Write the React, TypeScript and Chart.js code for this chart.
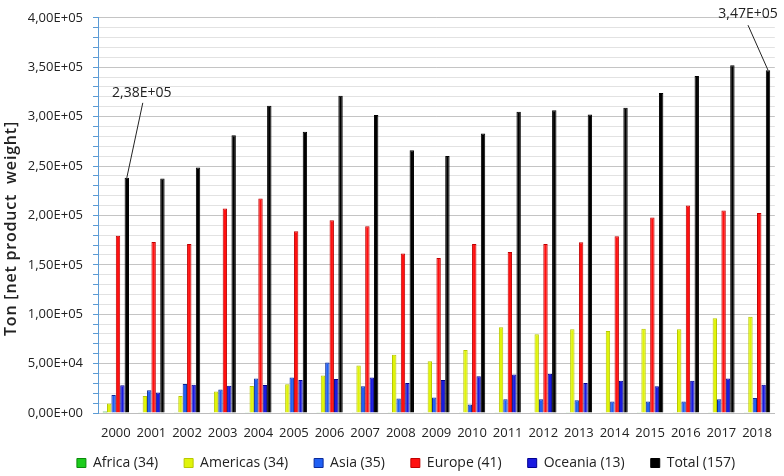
import React, { useEffect, useRef } from 'react';
import { Chart, registerables } from 'chart.js';

Chart.register(...registerables);

const years = ['2000', '2001', '2002', '2003', '2004', '2005', '2006', '2007', '2008', '2009', '2010', '2011', '2012', '2013', '2014', '2015', '2016', '2017', '2018'];
const africa = [1500, 800, 800, 800, 800, 800, 800, 800, 800, 800, 800, 800, 800, 800, 800, 800, 800, 800, 800];
const americas = [9700, 17300, 17300, 21700, 27300, 29000, 38000, 48000, 59000, 52300, 63700, 86700, 79700, 84700, 83000, 85300, 84700, 96000, 97300];
const asia = [18300, 23000, 29300, 23700, 35000, 36000, 51000, 27000, 14700, 15700, 8700, 14000, 14000, 13000, 11700, 11700, 11700, 14000, 15300];
const europe = [179500, 173000, 171000, 207000, 217000, 184000, 195000, 189000, 161500, 157000, 171000, 163000, 171000, 172800, 179000, 197800, 210000, 205000, 202500];
const oceania = [28000, 20700, 28700, 27700, 28300, 33300, 34300, 36000, 30300, 33300, 37300, 39000, 39700, 30300, 32700, 27000, 32700, 35000, 28700];
const total = [238000, 237300, 248500, 281000, 311000, 284700, 321000, 301500, 266000, 260000, 283000, 305000, 306500, 302000, 309000, 324000, 341000, 352000, 347000];
const seriesNames = ['Africa (34)', 'Americas (34)', 'Asia (35)', 'Europe (41)', 'Oceania (13)', 'Total (157)'];
const annotatedIndices = [0, 18];

function sci(v: number): string {
  const [m, e] = v.toExponential(2).split('e');
  const n = parseInt(e, 10);
  const sign = n < 0 ? '-' : '+';
  const ex = String(Math.abs(n)).padStart(2, '0');
  return m.replace('.', ',') + 'E' + sign + ex;
}

const titlePlugin = {
  id: 'yTitleAndLabels',
  afterDraw(chart: any) {
    const ctx = chart.ctx;
    ctx.save();
    ctx.translate(11, 228.5);
    ctx.rotate(-Math.PI / 2);
    ctx.font = '600 16px "Open Sans"';
    try { (ctx as any).letterSpacing = '0.8px'; } catch (e) {}
    ctx.fillStyle = '#222222';
    ctx.textAlign = 'center';
    ctx.textBaseline = 'middle';
    ctx.fillText('Ton [net product  weight]', 0, 0);
    ctx.restore();

    const meta = chart.getDatasetMeta(5);
    ctx.save();
    ctx.font = '14px "Open Sans"';
    ctx.fillStyle = '#222222';
    ctx.strokeStyle = '#222222';
    ctx.lineWidth = 1;
    ctx.textAlign = 'center';
    ctx.textBaseline = 'middle';
    annotatedIndices.forEach((idx) => {
      const el = meta.data[idx];
      if (!el) return;
      const label = sci(total[idx]);
      let tx, ty, lx, ly;
      if (idx === 0) {
        tx = el.x + 15; ty = el.y - 85; lx = el.x + 16; ly = el.y - 75;
      } else {
        tx = el.x - 20; ty = el.y - 56; lx = el.x - 20; ly = el.y - 45;
      }
      ctx.beginPath();
      ctx.moveTo(lx, ly);
      ctx.lineTo(el.x, el.y);
      ctx.stroke();
      ctx.fillText(label, tx, ty);
    });
    ctx.restore();
  },
};

const noClip = (s: any) => { s._computeLabelArea = () => undefined; };

export default function App() {
  const ref = useRef<HTMLCanvasElement | null>(null);
  useEffect(() => {
    if (!ref.current) return;
    const mk = (i: number, data: number[], bg: string, border: string) => ({
      label: seriesNames[i],
      data,
      backgroundColor: bg,
      borderColor: border,
      borderWidth: 1,
      categoryPercentage: 0.74,
      barPercentage: 1.0,
    });
    const chart = new Chart(ref.current, {
      type: 'bar',
      data: {
        labels: years,
        datasets: [
          mk(0, africa, '#1ccc1c', '#0a8a0a'),
          mk(1, americas, '#e0f40a', '#b8c800'),
          mk(2, asia, '#2060f4', '#0a2a9a'),
          mk(3, europe, '#ff1010', '#c00000'),
          mk(4, oceania, '#1a1ae0', '#000090'),
          mk(5, total, '#000000', '#000000'),
        ],
      },
      plugins: [titlePlugin],
      options: {
        animation: false,
        responsive: true,
        maintainAspectRatio: false,
        layout: { padding: { top: 13, right: 4, left: 32, bottom: 0 } },
        plugins: {
          legend: {
            position: 'bottom',
            labels: {
              boxWidth: 9,
              boxHeight: 9,
              padding: 26,
              color: '#222222',
              font: { family: '"Open Sans"', size: 14 },
            },
          },
          tooltip: { enabled: false },
        },
        scales: {
          x: {
            grid: { display: false, drawTicks: false },
            border: { display: true, color: '#bdbdbd' },
            ticks: {
              color: '#222222',
              font: { family: '"Open Sans"', size: 13 },
              padding: 12,
              maxRotation: 0,
              autoSkip: false,
            },
            afterFit: (s: any) => { s.height = 17; noClip(s); },
          },
          y: {
            min: 0,
            max: 400000,
            border: { display: true, color: '#5b9bd5' },
            grid: {
              color: (c: any) => (c.tick && c.tick.value % 50000 === 0 ? '#c4c4c4' : '#e2e2e2'),
              tickColor: '#5b9bd5',
              tickLength: 5,
            },
            ticks: {
              stepSize: 10000,
              autoSkip: false,
              color: '#222222',
              font: { family: '"Open Sans"', size: 13 },
              padding: 10,
              callback: (v: any) => (Number(v) % 50000 === 0 ? sci(Number(v)) : ''),
            },
            afterFit: (s: any) => { s.width = 66; noClip(s); },
          },
        },
      } as any,
    });
    return () => chart.destroy();
  }, []);
  return (
    <div style={{ position: 'fixed', left: 0, top: 0, width: 784, height: 480, background: '#ffffff' }}>
      <canvas ref={ref} />
    </div>
  );
}
